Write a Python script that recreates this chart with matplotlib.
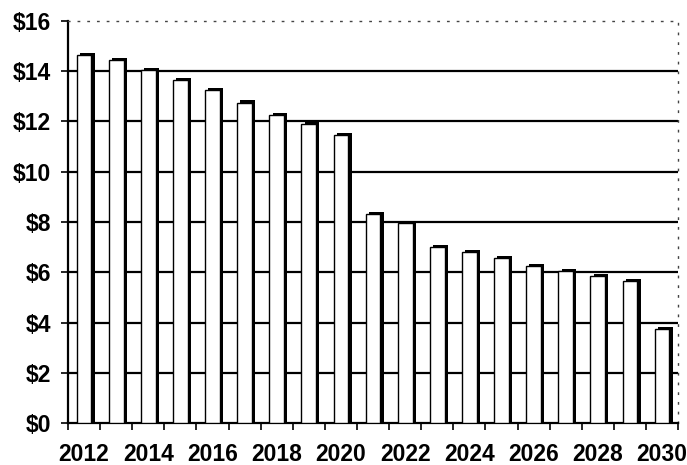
import numpy as np
import matplotlib.pyplot as plt

# data
years = list(range(2012, 2031))
values = [14.65, 14.45, 14.05, 13.65, 13.25, 12.75, 12.25, 11.9, 11.45,
          8.3, 7.95, 7.0, 6.8, 6.55, 6.25, 6.05, 5.85, 5.65, 3.75]
yticks = [0, 2, 4, 6, 8, 10, 12, 14, 16]
ylabels = ['$%d' % v for v in yticks]

plt.rcParams['font.family'] = ['Liberation Sans', 'DejaVu Sans']

fig = plt.figure(figsize=(6.87, 4.65), dpi=100)
ax = fig.add_axes([0.099, 0.09, 0.888, 0.865])

x = np.arange(len(years))
w = 0.46
# shadow (thick right/top edge), then white bar on top
ax.bar(x + 0.1, np.array(values) + 0.09, width=w, color='black', zorder=2)
ax.bar(x, values, width=w, color='white', edgecolor='black', linewidth=1.0, zorder=3)

# horizontal grid
for v in yticks[1:-1]:
    ax.axhline(v, color='black', lw=1.6, zorder=1)

ax.set_xlim(-0.5, len(years) - 0.5)
ax.set_ylim(0, 16)
ax.set_yticks(yticks)
ax.set_yticklabels(ylabels, fontsize=16.5, fontweight='bold')

ax.set_xticks(x[::2])
ax.set_xticklabels([str(y) for y in years[::2]], fontsize=16.5, fontweight='bold')
ax.set_xticks(np.arange(-0.5, len(years), 1.0), minor=True)
ax.tick_params(axis='x', which='major', length=0, pad=14)
ax.tick_params(axis='x', which='minor', length=5, width=1.2, direction='out')
ax.tick_params(axis='y', length=5, width=1.2, direction='out', pad=7)

for s in ['left', 'bottom']:
    ax.spines[s].set_linewidth(1.6)
for s in ['top', 'right']:
    ax.spines[s].set_linestyle((0, (1, 6)))
    ax.spines[s].set_color('#444444')
    ax.spines[s].set_linewidth(1.0)

fig.savefig('out.png', dpi=100)
